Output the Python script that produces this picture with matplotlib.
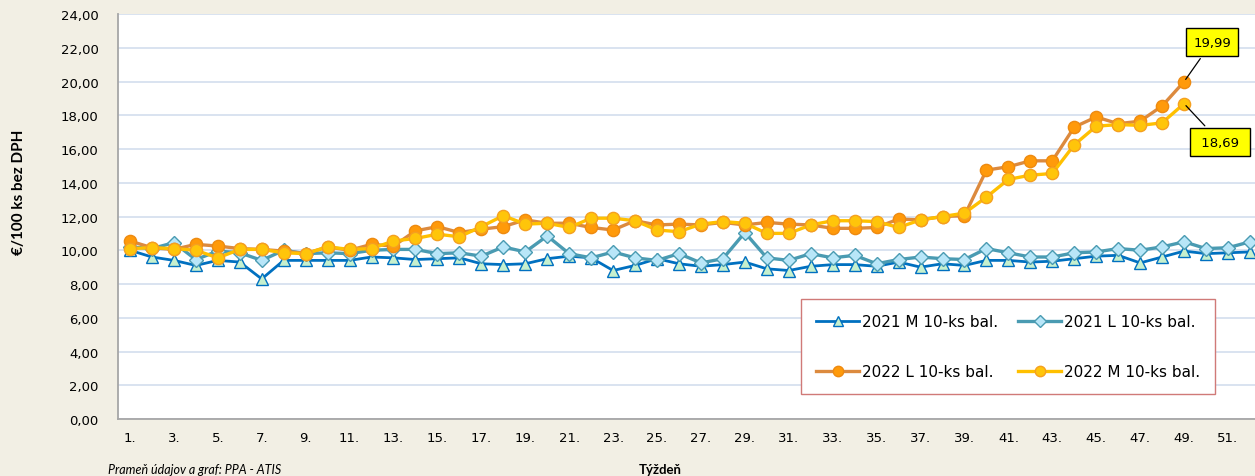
import matplotlib
matplotlib.use("Agg")
import matplotlib.pyplot as plt

weeks = list(range(1, 53))
weeks_2022 = list(range(1, 50))

m_2021 = [10.0, 9.6, 9.4, 9.1, 9.4, 9.3, 8.3, 9.4, 9.4, 9.4,
          9.4, 9.6, 9.55, 9.45, 9.5, 9.55, 9.2, 9.15, 9.2, 9.5,
          9.65, 9.55, 8.8, 9.1, 9.5, 9.2, 9.05, 9.15, 9.3, 8.9,
          8.8, 9.05, 9.15, 9.15, 9.05, 9.3, 9.0, 9.2, 9.1, 9.4,
          9.4, 9.3, 9.35, 9.5, 9.65, 9.7, 9.25, 9.6, 9.95, 9.8,
          9.85, 9.9]
l_2021 = [10.2, 10.1, 10.45, 9.45, 9.95, 9.85, 9.4, 10.0, 9.8, 9.85,
          9.8, 10.0, 10.05, 10.05, 9.8, 9.85, 9.65, 10.2, 9.9, 10.85,
          9.8, 9.55, 9.9, 9.55, 9.4, 9.8, 9.25, 9.5, 11.05, 9.55,
          9.4, 9.8, 9.55, 9.7, 9.2, 9.45, 9.6, 9.5, 9.45, 10.1,
          9.85, 9.6, 9.6, 9.85, 9.9, 10.1, 10.0, 10.2, 10.5, 10.1,
          10.15, 10.5]
l_2022 = [10.55, 10.15, 10.05, 10.35, 10.25, 10.1, 10.05, 9.95, 9.8, 10.2,
          10.0, 10.35, 10.25, 11.15, 11.4, 11.05, 11.25, 11.4, 11.8, 11.6,
          11.6, 11.35, 11.2, 11.75, 11.5, 11.55, 11.5, 11.65, 11.5, 11.65,
          11.55, 11.5, 11.3, 11.3, 11.35, 11.85, 11.8, 12.0, 12.05, 14.75,
          14.95, 15.3, 15.3, 17.3, 17.9, 17.5, 17.65, 18.55, 19.99]
m_2022 = [10.1, 10.15, 10.1, 10.0, 9.55, 10.05, 10.05, 9.85, 9.8, 10.2,
          10.05, 10.1, 10.55, 10.7, 10.95, 10.8, 11.4, 12.05, 11.55, 11.6,
          11.35, 11.9, 11.9, 11.75, 11.2, 11.1, 11.55, 11.7, 11.6, 11.0,
          11.0, 11.5, 11.75, 11.75, 11.7, 11.35, 11.8, 12.0, 12.2, 13.15,
          14.2, 14.45, 14.55, 16.25, 17.35, 17.45, 17.4, 17.55, 18.69]

labels = ["2021 M 10-ks bal.", "2021 L 10-ks bal.", "2022 L 10-ks bal.", "2022 M 10-ks bal."]
y_ticks = list(range(0, 25, 2))

bg = "#F2EFE4"
fig = plt.figure(figsize=(12.55, 4.77), dpi=100, facecolor=bg)
ax = fig.add_axes([0.094, 0.1195, 0.906, 0.849])
ax.set_facecolor("white")

h1, = ax.plot(weeks, m_2021, color="#0070C0", lw=2.0, marker="^", markersize=9,
              markerfacecolor="#C6F0CE", markeredgecolor="#0070C0", markeredgewidth=1.0,
              label=labels[0], zorder=3)
h2, = ax.plot(weeks, l_2021, color="#4A9BB2", lw=2.4, marker="D", markersize=6.8,
              markerfacecolor="#B8E6F8", markeredgecolor="#4A9BB2", markeredgewidth=1.0,
              label=labels[1], zorder=4)
h3, = ax.plot(weeks_2022, l_2022, color="#DC8A3E", lw=2.4, marker="o", markersize=8.8,
              markerfacecolor="#FF9A0A", markeredgecolor="#EE8A10", markeredgewidth=1.0,
              label=labels[2], zorder=5)
h4, = ax.plot(weeks_2022, m_2022, color="#FFC000", lw=2.4, marker="o", markersize=8.8,
              markerfacecolor="#FFC50A", markeredgecolor="#F5A020", markeredgewidth=1.0,
              label=labels[3], zorder=6)

ax.set_xlim(0.454, 52.23)
ax.set_ylim(0, 24)
ax.set_yticks(y_ticks)
ax.set_yticklabels(["%d,00" % v for v in y_ticks])
ax.set_xticks(weeks[::2])
ax.set_xticklabels(["%d." % w for w in weeks[::2]])
ax.tick_params(axis="both", length=0, labelsize=9.5, colors="black")
ax.tick_params(axis="y", pad=14)
ax.tick_params(axis="x", pad=9)
ax.grid(axis="y", color="#D3DEEE", lw=1.2)
ax.set_axisbelow(True)
for s in ["top", "right"]:
    ax.spines[s].set_visible(False)
for s in ["left", "bottom"]:
    ax.spines[s].set_color("#A6A6A6")
    ax.spines[s].set_linewidth(1.3)

box = dict(boxstyle="square,pad=0.55", facecolor="#FFFF00", edgecolor="black", lw=1.0)
ax.annotate("19,99", xy=(49, l_2022[-1]), xytext=(50.27, 22.34), ha="center", va="center",
            fontsize=9.5, bbox=box, arrowprops=dict(arrowstyle="-", color="black", lw=0.9),
            zorder=10)
ax.annotate(" 18,69 ", xy=(49, m_2022[-1]), xytext=(50.64, 16.41), ha="center", va="center",
            fontsize=9.5, bbox=box,
            arrowprops=dict(arrowstyle="-", color="black", lw=0.9), zorder=10)

leg = ax.legend([h1, h3, h2, h4], [labels[0], labels[2], labels[1], labels[3]], ncol=2,
                loc="center", bbox_to_anchor=(0.592, 0.049, 0.382, 0.26),
                fancybox=False, framealpha=1, edgecolor="#D07A78", fontsize=11,
                handlelength=2.8, labelspacing=2.3, columnspacing=1.3, handletextpad=0.2,
                borderpad=1.0, markerscale=0.85)
leg.get_frame().set_linewidth(1.0)
leg.set_zorder(20)

ax.set_ylabel("€/100 ks bez DPH", fontsize=11, fontweight="bold", family="Lato")
ax.yaxis.set_label_coords(-0.081, 0.563)
fig.text(660 / 1255, 1 - 470 / 477, "Týždeň", ha="center", va="center", fontsize=9.5,
         fontweight="bold", family="Lato")
fig.text(108 / 1255, 1 - 470 / 477, "Prameň údajov a graf: PPA - ATIS", ha="left", va="center",
         fontsize=9, style="italic", family="Lato")

fig.savefig("out.png", dpi=100, facecolor=bg)
